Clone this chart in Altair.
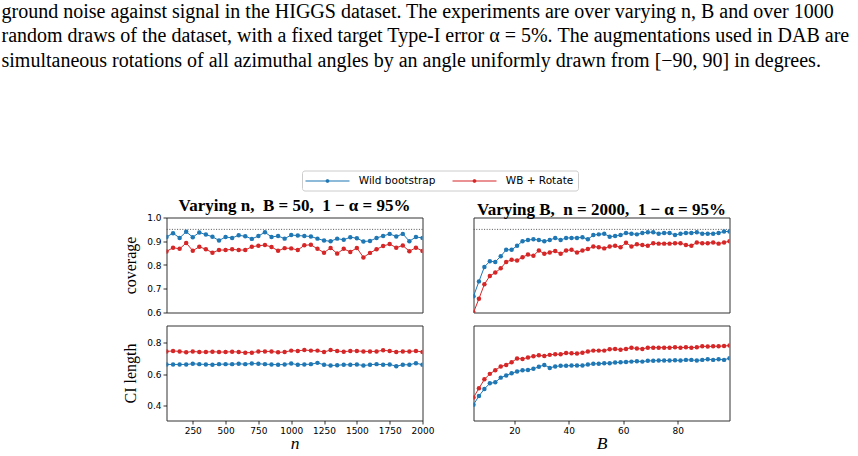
import altair as alt
import pandas as pd

header_lines = [
    "ground noise against signal in the HIGGS dataset. The experiments are over varying n, B and over 1000",
    "random draws of the dataset, with a fixed target Type-I error α = 5%. The augmentations used in DAB are",
    "simultaneous rotations of all azimuthal angles by an angle uniformly drawn from [−90, 90] in degrees.",
]
methods = ["Wild bootstrap", "WB + Rotate"]
colors = ["#1f77b4", "#d62728"]
target = [0.95]

n_values = [50, 100, 150, 200, 250, 300, 350, 400, 450, 500,
            550, 600, 650, 700, 750, 800, 850, 900, 950, 1000,
            1050, 1100, 1150, 1200, 1250, 1300, 1350, 1400, 1450, 1500,
            1550, 1600, 1650, 1700, 1750, 1800, 1850, 1900, 1950, 2000]
B_values = [5, 7, 9, 11, 13, 15, 17, 19, 21, 23, 25, 27, 29, 31, 33, 35,
            37, 39, 41, 43, 45, 47, 49, 51, 53, 55, 57, 59, 61, 63, 65, 67,
            69, 71, 73, 75, 77, 79, 81, 83, 85, 87, 89, 91, 93, 95, 97, 99]

cov_n_wb = [0.918, 0.934, 0.914, 0.940, 0.917, 0.937, 0.928, 0.919, 0.903, 0.918,
            0.914, 0.925, 0.921, 0.910, 0.922, 0.938, 0.918, 0.922, 0.911, 0.926,
            0.924, 0.922, 0.920, 0.911, 0.903, 0.900, 0.911, 0.906, 0.917, 0.913,
            0.899, 0.901, 0.914, 0.922, 0.931, 0.920, 0.931, 0.900, 0.918, 0.914]
cov_n_rot = [0.857, 0.873, 0.868, 0.893, 0.860, 0.877, 0.866, 0.852, 0.863, 0.863,
             0.866, 0.863, 0.863, 0.877, 0.881, 0.884, 0.876, 0.860, 0.871, 0.870,
             0.863, 0.883, 0.885, 0.868, 0.852, 0.872, 0.848, 0.868, 0.855, 0.872,
             0.832, 0.851, 0.866, 0.880, 0.888, 0.873, 0.882, 0.858, 0.873, 0.859]

cov_B_wb = [0.668, 0.731, 0.792, 0.816, 0.813, 0.837, 0.864, 0.864, 0.881, 0.900,
            0.905, 0.908, 0.905, 0.900, 0.905, 0.914, 0.905, 0.914, 0.914, 0.914,
            0.917, 0.908, 0.926, 0.929, 0.932, 0.919, 0.922, 0.926, 0.935, 0.932,
            0.929, 0.935, 0.938, 0.938, 0.932, 0.935, 0.935, 0.926, 0.932, 0.935,
            0.935, 0.938, 0.932, 0.932, 0.932, 0.935, 0.941, 0.941]
cov_B_rot = [0.600, 0.658, 0.719, 0.754, 0.768, 0.786, 0.813, 0.822, 0.819, 0.833,
             0.844, 0.839, 0.861, 0.847, 0.853, 0.859, 0.847, 0.861, 0.864, 0.853,
             0.861, 0.867, 0.878, 0.875, 0.870, 0.878, 0.881, 0.875, 0.894, 0.878,
             0.887, 0.884, 0.881, 0.892, 0.890, 0.890, 0.890, 0.892, 0.892, 0.884,
             0.881, 0.895, 0.892, 0.892, 0.895, 0.890, 0.895, 0.900]

len_n_wb = [0.662, 0.662, 0.662, 0.662, 0.666, 0.664, 0.662, 0.660, 0.664, 0.664,
            0.664, 0.666, 0.664, 0.668, 0.666, 0.664, 0.662, 0.660, 0.662, 0.668,
            0.660, 0.662, 0.664, 0.672, 0.660, 0.655, 0.657, 0.660, 0.660, 0.662,
            0.655, 0.660, 0.664, 0.660, 0.662, 0.651, 0.660, 0.660, 0.670, 0.660]
len_n_rot = [0.745, 0.748, 0.745, 0.739, 0.745, 0.741, 0.741, 0.743, 0.741, 0.741,
             0.743, 0.741, 0.737, 0.737, 0.745, 0.745, 0.745, 0.739, 0.741, 0.750,
             0.748, 0.754, 0.750, 0.750, 0.741, 0.754, 0.748, 0.743, 0.748, 0.748,
             0.745, 0.745, 0.745, 0.752, 0.748, 0.741, 0.745, 0.745, 0.748, 0.741]

len_B_wb = [0.406, 0.461, 0.506, 0.542, 0.548, 0.578, 0.591, 0.606, 0.617, 0.625,
            0.627, 0.634, 0.647, 0.659, 0.640, 0.649, 0.653, 0.653, 0.655, 0.655,
            0.655, 0.661, 0.666, 0.666, 0.670, 0.670, 0.674, 0.676, 0.678, 0.680,
            0.683, 0.680, 0.685, 0.685, 0.687, 0.687, 0.687, 0.689, 0.687, 0.691,
            0.691, 0.687, 0.691, 0.695, 0.691, 0.695, 0.691, 0.702]
len_B_rot = [0.452, 0.510, 0.567, 0.602, 0.625, 0.649, 0.659, 0.676, 0.700, 0.697,
             0.706, 0.714, 0.720, 0.716, 0.723, 0.727, 0.727, 0.735, 0.733, 0.731,
             0.737, 0.744, 0.750, 0.750, 0.750, 0.759, 0.761, 0.756, 0.761, 0.769,
             0.763, 0.761, 0.769, 0.769, 0.769, 0.769, 0.769, 0.771, 0.769, 0.771,
             0.769, 0.771, 0.778, 0.776, 0.778, 0.778, 0.780, 0.782]

n_ticks = [250, 500, 750, 1000, 1250, 1500, 1750, 2000]
B_ticks = [20, 40, 60, 80]
cov_ticks = [0.6, 0.7, 0.8, 0.9, 1.0]
len_ticks = [0.4, 0.6, 0.8]

W, H = 256, 95

color_scale = alt.Scale(domain=methods, range=colors)
legend = alt.Legend(
    orient="none", legendX=135.5, legendY=-47, direction="horizontal", title=None,
    symbolType="M-4,0H4M-0.22,-0.09L-0.09,-0.22L0.09,-0.22L0.22,-0.09L0.22,0.09L0.09,0.22L-0.09,0.22L-0.22,0.09Z",
    symbolSize=121, symbolStrokeWidth=1.2, symbolOffset=15, labelOffset=24.8,
    columnPadding=14, padding=4, fillColor="white", strokeColor="#cccccc",
    cornerRadius=2.5, labelFont="DejaVu Sans", labelFontSize=10.5, labelColor="black",
)


def frame(xs, wb, rot):
    return pd.DataFrame({
        "x": xs + xs,
        "v": wb + rot,
        "method": [methods[0]] * len(xs) + [methods[1]] * len(xs),
    })


def panel(xs, wb, rot, xdom, ydom, xaxis, yaxis, title=None, with_target=False):
    yscale = alt.Scale(domain=ydom, nice=False, zero=False)
    base = alt.Chart(frame(xs, wb, rot)).encode(
        x=alt.X("x:Q", scale=alt.Scale(domain=xdom, nice=False, zero=False), axis=xaxis),
        y=alt.Y("v:Q", scale=yscale, axis=yaxis),
    )
    layers = []
    if with_target:
        layers.append(
            alt.Chart(pd.DataFrame({"v": target})).mark_rule(
                color="#555555", strokeDash=[1, 1.6], strokeWidth=1
            ).encode(y=alt.Y("v:Q", scale=yscale, axis=yaxis))
        )
    layers.append(base.mark_line(strokeWidth=1, clip=True).encode(
        color=alt.Color("method:N", scale=color_scale, legend=legend)))
    layers.append(base.mark_point(filled=True, size=20, opacity=1, clip=True).encode(
        color=alt.Color("method:N", scale=color_scale, legend=None)))
    ch = alt.layer(*layers).properties(width=W, height=H)
    if title:
        ch = ch.properties(title=alt.TitleParams(
            text=title, font="Liberation Serif", fontSize=17, fontWeight="bold",
            anchor="middle", baseline="alphabetic", offset=5, dy=19, color="black"))
    return ch


def yax(title, vals):
    return alt.Axis(title=title, values=vals, format=".1f", titleX=-31.5, titleY=H / 2,
                    titleAngle=270, titleBaseline="alphabetic", titleFont="Liberation Serif",
                    titleFontSize=16, titleFontWeight="normal", labelOverlap=False,
                    labelFlush=False)


def xax(title, vals):
    return alt.Axis(title=title, values=vals, format="d", titleY=27.5,
                    titleBaseline="alphabetic", titleFont="Liberation Serif",
                    titleFontSize=17.5, titleFontStyle="italic", titleFontWeight="normal",
                    labelOverlap=False, labelFlush=False)


c1 = panel(n_values, cov_n_wb, cov_n_rot, [50, 2000], [0.6, 1.0], None,
           yax("coverage", cov_ticks),
           "Varying n,\u2002B = 50,\u20021 − α = 95%", True)
c2 = panel(B_values, cov_B_wb, cov_B_rot, [5, 99], [0.6, 1.0], None, None,
           "Varying B,\u2002n = 2000,\u20021 − α = 95%", True)
c3 = panel(n_values, len_n_wb, len_n_rot, [50, 2000], [0.305, 0.91],
           xax("n", n_ticks), yax("CI length", len_ticks))
c4 = panel(B_values, len_B_wb, len_B_rot, [5, 99], [0.305, 0.91],
           xax("B", B_ticks), None)

row1 = alt.hconcat(c1, c2, spacing=49)
row2 = alt.hconcat(c3, c4, spacing=38)

chart = alt.vconcat(row1, row2, spacing=6).properties(
    title=alt.TitleParams(
        text=header_lines, font="Liberation Serif", fontSize=20, fontWeight="normal",
        anchor="start", dx=-120, offset=99.5, lineHeight=24.5, color="black"),
    padding=1.5,
    background="white",
).configure_view(stroke="#333333", strokeWidth=1).configure_axis(
    labelFont="DejaVu Sans", labelFontSize=9, labelColor="black", tickColor="black",
    tickSize=3.5, tickWidth=0.8, labelPadding=2, domain=False, grid=False, titleColor="black",
)

chart.save("out.html", embed_options={"renderer": "svg", "actions": False})
